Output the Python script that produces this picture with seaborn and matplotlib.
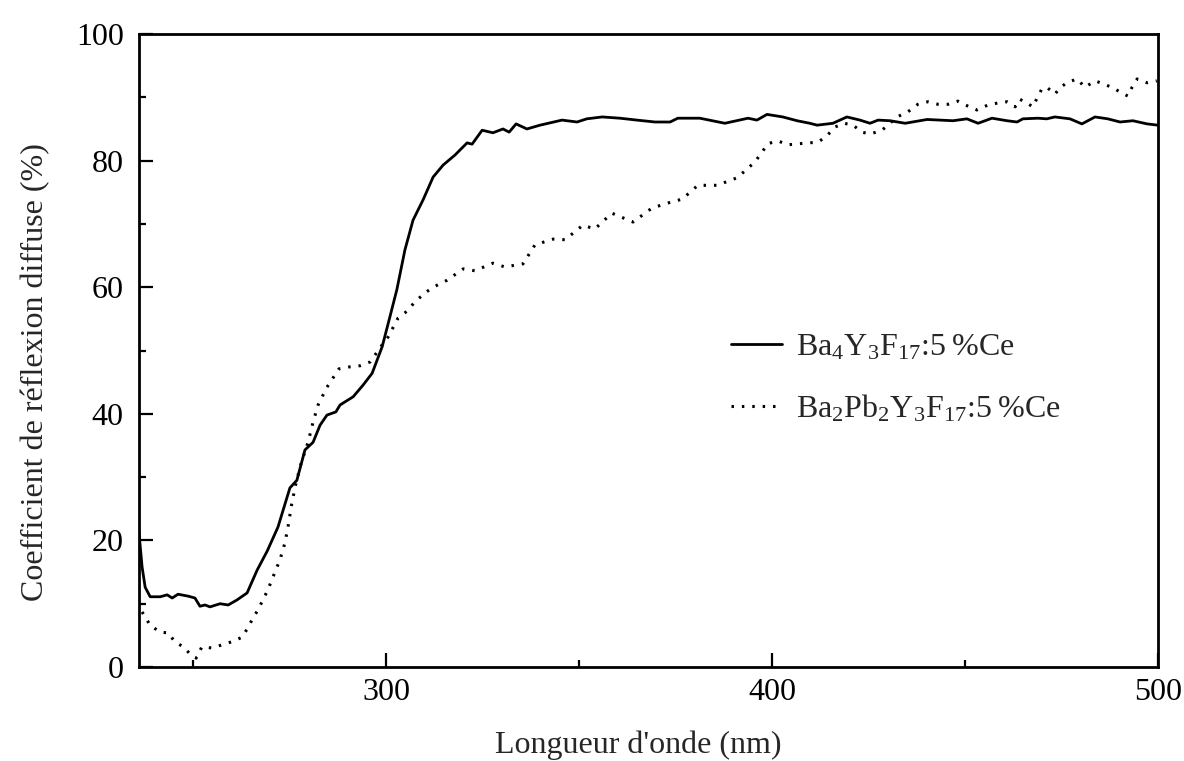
import pandas as pd
import matplotlib
matplotlib.use("Agg")
import matplotlib.pyplot as plt
import seaborn as sns
from matplotlib.ticker import MultipleLocator

# Ba4Y3F17:5%Ce (solid)
wl_ba4 = [236, 236.8, 237.6, 238.9, 241.5, 243.3, 244.6, 246.1, 248.7, 250.5,
          251.8, 253.1, 254.4, 257, 259.1, 261.4, 264, 266.6, 269.2, 272,
          275.1, 276.9, 279, 281.1, 282.9, 284.7, 287, 288.1, 291.5, 294,
          296.4, 299, 301, 302.8, 304.9, 307, 309.6, 312.2, 314.8, 317.9,
          321, 322.3, 324.9, 327.7, 330.3, 331.9, 333.7, 336.5, 339.9, 345.6,
          349.5, 352, 356, 360.6, 365, 369.7, 373.6, 375.6, 381.3, 387.8,
          393.8, 396.1, 398.7, 402.8, 406.5, 409.8, 411.7, 415.8, 419.4, 422.8,
          425.4, 427.5, 430.6, 434.5, 440.2, 446.9, 450.5, 453.4, 457, 460.9,
          463.5, 465, 468.9, 471.2, 473.3, 477.2, 480.3, 483.7, 487, 490.2,
          493.5, 497.2, 500]
refl_ba4 = [21.2, 15.8, 12.6, 11.1, 11.1, 11.4, 10.9, 11.5, 11.2, 10.9,
            9.6, 9.8, 9.5, 10, 9.8, 10.6, 11.7, 15.3, 18.3, 22.1,
            28.3, 29.5, 34.3, 35.5, 38.2, 39.8, 40.3, 41.4, 42.7, 44.5,
            46.4, 50.6, 55.3, 59.6, 65.9, 70.6, 73.8, 77.4, 79.3, 80.9,
            82.8, 82.6, 84.8, 84.4, 85, 84.5, 85.8, 85, 85.6, 86.4,
            86.1, 86.6, 86.9, 86.7, 86.4, 86.1, 86.1, 86.7, 86.7, 85.9,
            86.7, 86.4, 87.3, 86.9, 86.3, 85.9, 85.6, 85.9, 86.9, 86.4,
            85.9, 86.4, 86.3, 85.9, 86.5, 86.3, 86.6, 85.9, 86.7, 86.3,
            86.1, 86.6, 86.7, 86.6, 86.9, 86.6, 85.8, 86.9, 86.6, 86.1,
            86.3, 85.8, 85.6]

# Ba2Pb2Y3F17:5%Ce (dotted)
wl_ba2pb2 = [236.8, 238.9, 241.5, 243.5, 245.3, 247.4, 249.2, 250.8, 252.3, 254.9,
             257.5, 260.1, 262.7, 264.2, 265.5, 266.8, 268.1, 269.4, 270.7, 272.5,
             273.8, 274.6, 275.6, 276.7, 278, 279.8, 281.1, 282.4, 283.7, 284.7,
             286.3, 287.8, 290.4, 293.3, 295.9, 299, 300.5, 303.1, 305.4, 307.5,
             310.1, 312.2, 315.8, 320, 323, 327.7, 330.8, 335.5, 338.6, 343.3,
             346.4, 351, 354.1, 358.5, 364, 368.9, 374.1, 376.7, 380.8, 385.8,
             391, 395.6, 399, 401.6, 404.1, 409.3, 411.9, 414.2, 416.3, 418.7,
             421, 423.3, 425.4, 428.5, 432.4, 435.2, 437.8, 440.4, 443, 445.6,
             448.2, 450.8, 453.1, 456, 458.5, 460.9, 463, 464.2, 466, 467.6,
             468.7, 469.9, 471.2, 473.3, 474.6, 476.4, 479, 481.1, 483.7, 486,
             488.3, 491.2, 492.2, 493.3, 494.6, 497.2, 499.7]
refl_ba2pb2 = [8.7, 6.6, 5.5, 5.4, 4, 3.2, 2.1, 1.4, 3.2, 3,
               3.5, 4, 4.7, 6.2, 7.7, 9, 10.6, 12.2, 14.2, 16.9,
               19.6, 22.1, 25.9, 29.1, 32.2, 35.5, 38.7, 41.4, 43, 44.2,
               45.7, 47.1, 47.4, 47.6, 48.2, 50.9, 52.1, 55.1, 56.2, 57.7,
               59.1, 60, 61.1, 62.9, 62.6, 63.8, 63.2, 63.7, 66.7, 67.6,
               67.5, 69.8, 69.2, 71.7, 70.3, 72.5, 73.5, 73.9, 76.1, 76.1,
               77.3, 79.8, 82.7, 83.1, 82.5, 82.8, 82.9, 83.9, 85.3, 85.9,
               85.6, 84.5, 84.2, 84.8, 86.9, 87.7, 88.9, 89.3, 88.9, 88.9,
               89.4, 88.6, 88, 88.8, 89.1, 89.3, 88.5, 89.7, 89.1, 88.5,
               89.9, 91.3, 91.6, 90.5, 91.5, 92.3, 92.9, 91.6, 92.6, 92.1,
               91.5, 90.5, 90.2, 91.6, 92.9, 92.3, 92.6]

label_ba4 = "$\\mathregular{Ba_4Y_3F_{17}}$:5\u2009%Ce"
label_ba2pb2 = "$\\mathregular{Ba_2Pb_2Y_3F_{17}}$:5\u2009%Ce"

sns.set_theme(style="ticks")
plt.rcParams["font.family"] = ["Liberation Serif", "DejaVu Serif"]
plt.rcParams["mathtext.fontset"] = "custom"
plt.rcParams["mathtext.rm"] = "Liberation Serif"

df_a = pd.DataFrame({"wl": wl_ba4, "r": refl_ba4})
df_b = pd.DataFrame({"wl": wl_ba2pb2, "r": refl_ba2pb2})

fig = plt.figure(figsize=(11.84, 7.61), dpi=100)
ax = fig.add_axes([0.1174, 0.1235, 0.8606, 0.8318])

sns.lineplot(data=df_a, x="wl", y="r", ax=ax, color="black", lw=2.0,
             estimator=None, sort=False, label=label_ba4)
sns.lineplot(data=df_b, x="wl", y="r", ax=ax, color="black", lw=2.2,
             estimator=None, sort=False, label=label_ba2pb2,
             linestyle=(0, (0.8, 2.6)))

ax.set_xlim(236, 500)
ax.set_ylim(0, 100)
ax.xaxis.set_major_locator(MultipleLocator(100))
ax.xaxis.set_minor_locator(MultipleLocator(50))
ax.yaxis.set_major_locator(MultipleLocator(20))
ax.yaxis.set_minor_locator(MultipleLocator(10))
ax.tick_params(which="both", direction="in", top=False, right=False,
               labelsize=23, colors="black", width=1.6)
ax.tick_params(axis="x", pad=8)
ax.tick_params(axis="y", pad=11)
ax.tick_params(which="major", length=10)
ax.tick_params(which="minor", length=5)
for s in ax.spines.values():
    s.set_linewidth(2)
    s.set_color("black")

ax.set_xlabel("Longueur d'onde (nm)", fontsize=23)
ax.set_ylabel("Coefficient de réflexion diffuse (%)", fontsize=23)
ax.xaxis.set_label_coords(0.49, -0.101)
ax.yaxis.set_label_coords(-0.087, 0.466)

ax.legend(loc="upper left", bbox_to_anchor=(0.553, 0.573), frameon=False,
          fontsize=23, handlelength=1.6, handletextpad=0.42, labelspacing=0.95)

fig.savefig("out.png", dpi=100)
